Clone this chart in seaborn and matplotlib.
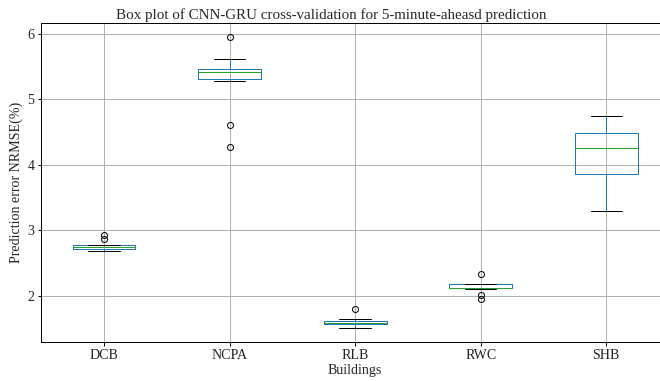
import numpy as np
import pandas as pd
import matplotlib
matplotlib.use("Agg")
import matplotlib.pyplot as plt
import seaborn as sns

buildings = ["DCB", "NCPA", "RLB", "RWC", "SHB"]
dcb = [2.68, 2.70, 2.715, 2.73, 2.74, 2.75, 2.75, 2.775, 2.86, 2.93]
ncpa = [4.27, 4.60, 5.28, 5.40, 5.40, 5.42, 5.42, 5.47, 5.61, 5.95]
rlb = [1.51, 1.55, 1.565, 1.585, 1.585, 1.595, 1.60, 1.62, 1.64, 1.79]
rwc = [1.955, 2.005, 2.108, 2.115, 2.115, 2.12, 2.17, 2.177, 2.18, 2.33]
shb = [3.30, 3.60, 3.80, 4.02, 4.20, 4.30, 4.45, 4.50, 4.62, 4.75]

values = [dcb, ncpa, rlb, rwc, shb]
df = pd.DataFrame({
    "Buildings": np.repeat(buildings, [len(v) for v in values]),
    "NRMSE": np.concatenate(values),
})

sns.set_style("ticks")
plt.rcParams["font.family"] = ["Liberation Serif", "DejaVu Serif"]

fig = plt.figure(figsize=(660 / 72, 381 / 72), dpi=72)
ax = fig.add_axes([41.3 / 660, (381 - 342.3) / 381, (669 - 41.3) / 660, (342.3 - 22.5) / 381])

blue = "#1f77b4"
sns.boxplot(
    data=df, x="Buildings", y="NRMSE", order=buildings, ax=ax,
    fill=False, width=0.5, whis=1.5, linewidth=1.0,
    boxprops=dict(color=blue, linewidth=1.0),
    whiskerprops=dict(color=blue, linewidth=1.0),
    medianprops=dict(color="#2ca02c", linewidth=1.0),
    capprops=dict(color="black", linewidth=1.0),
    flierprops=dict(marker="o", markerfacecolor="none", markeredgecolor="black",
                    markersize=6, markeredgewidth=1.0),
)

ax.set_axisbelow(True)
ax.grid(True, color="#b0b0b0", linewidth=1.0)
for s in ax.spines.values():
    s.set_visible(True)
    s.set_color("black")
    s.set_linewidth(1.0)
ax.set_xlim(-0.5, 4.5)
ax.set_yticks([2, 3, 4, 5, 6])
ax.tick_params(labelsize=14, length=3.5, width=1.0, color="black")
ax.set_xlabel("Buildings", fontsize=14, labelpad=2)
ax.set_ylabel("Prediction error NRMSE(%)", fontsize=14)
ax.set_title("Box plot of CNN-GRU cross-validation for 5-minute-aheasd prediction",
             fontsize=15, pad=4, x=(331 - 41.3) / (669 - 41.3))

fig.savefig("out.png", dpi=72)
